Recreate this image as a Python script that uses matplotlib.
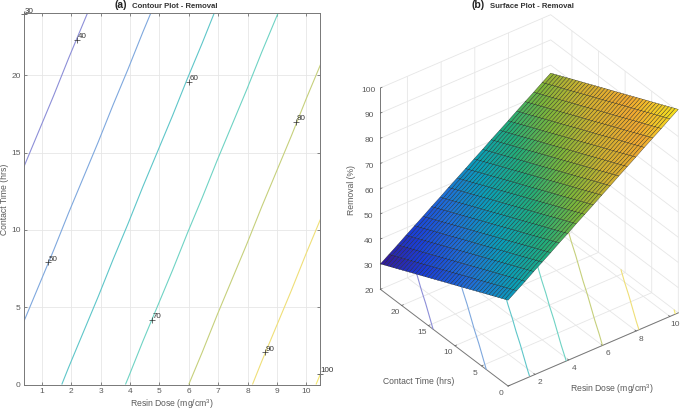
import matplotlib
matplotlib.use('Agg')
import matplotlib.pyplot as plt
from matplotlib.colors import LinearSegmentedColormap
import numpy as np

plt.rcParams['font.family'] = ['Liberation Sans', 'DejaVu Sans']
plt.rcParams['mathtext.default'] = 'regular'
plt.rcParams['grid.color'] = '#e6e6e6'
plt.rcParams['grid.linewidth'] = 0.6

#values
dose = [0.4, 0.905, 1.41, 1.915, 2.42, 2.925, 3.43, 3.935, 4.44, 4.945, 5.45,
        5.955, 6.46, 6.965, 7.47, 7.975, 8.48, 8.985, 9.49, 9.995, 10.5]
time = [0.0, 0.6, 1.2, 1.8, 2.4, 3.0, 3.6, 4.2, 4.8, 5.4, 6.0, 6.6, 7.2, 7.8,
        8.4, 9.0, 9.6, 10.2, 10.8, 11.4, 12.0, 12.6, 13.2, 13.8, 14.4, 15.0,
        15.6, 16.2, 16.8, 17.4, 18.0, 18.6, 19.2, 19.8, 20.4, 21.0, 21.6,
        22.2, 22.8, 23.4, 24.0]
removal = [
    [54.1, 56.4, 58.7, 61.1, 63.4, 65.7, 68.1, 70.4, 72.8, 75.1, 77.4, 79.8, 82.1, 84.5, 86.8, 89.1, 91.5, 93.8, 96.1, 98.5, 100.8],
    [53.5, 55.8, 58.1, 60.5, 62.8, 65.1, 67.5, 69.8, 72.2, 74.5, 76.8, 79.2, 81.5, 83.9, 86.2, 88.5, 90.9, 93.2, 95.5, 97.9, 100.2],
    [52.9, 55.2, 57.5, 59.9, 62.2, 64.5, 66.9, 69.2, 71.6, 73.9, 76.2, 78.6, 80.9, 83.3, 85.6, 87.9, 90.3, 92.6, 94.9, 97.3, 99.6],
    [52.3, 54.6, 56.9, 59.3, 61.6, 63.9, 66.3, 68.6, 71.0, 73.3, 75.6, 78.0, 80.3, 82.7, 85.0, 87.3, 89.7, 92.0, 94.3, 96.7, 99.0],
    [51.7, 54.0, 56.3, 58.7, 61.0, 63.3, 65.7, 68.0, 70.4, 72.7, 75.0, 77.4, 79.7, 82.1, 84.4, 86.7, 89.1, 91.4, 93.7, 96.1, 98.4],
    [51.1, 53.4, 55.7, 58.1, 60.4, 62.7, 65.1, 67.4, 69.8, 72.1, 74.4, 76.8, 79.1, 81.5, 83.8, 86.1, 88.5, 90.8, 93.1, 95.5, 97.8],
    [50.5, 52.8, 55.1, 57.5, 59.8, 62.1, 64.5, 66.8, 69.2, 71.5, 73.8, 76.2, 78.5, 80.9, 83.2, 85.5, 87.9, 90.2, 92.5, 94.9, 97.2],
    [49.9, 52.2, 54.5, 56.9, 59.2, 61.5, 63.9, 66.2, 68.6, 70.9, 73.2, 75.6, 77.9, 80.3, 82.6, 84.9, 87.3, 89.6, 91.9, 94.3, 96.6],
    [49.3, 51.6, 53.9, 56.3, 58.6, 60.9, 63.3, 65.6, 68.0, 70.3, 72.6, 75.0, 77.3, 79.7, 82.0, 84.3, 86.7, 89.0, 91.3, 93.7, 96.0],
    [48.7, 51.0, 53.3, 55.7, 58.0, 60.3, 62.7, 65.0, 67.4, 69.7, 72.0, 74.4, 76.7, 79.1, 81.4, 83.7, 86.1, 88.4, 90.7, 93.1, 95.4],
    [48.1, 50.4, 52.7, 55.1, 57.4, 59.7, 62.1, 64.4, 66.8, 69.1, 71.4, 73.8, 76.1, 78.5, 80.8, 83.1, 85.5, 87.8, 90.1, 92.5, 94.8],
    [47.5, 49.8, 52.1, 54.5, 56.8, 59.1, 61.5, 63.8, 66.2, 68.5, 70.8, 73.2, 75.5, 77.9, 80.2, 82.5, 84.9, 87.2, 89.5, 91.9, 94.2],
    [46.9, 49.2, 51.5, 53.9, 56.2, 58.5, 60.9, 63.2, 65.6, 67.9, 70.2, 72.6, 74.9, 77.3, 79.6, 81.9, 84.3, 86.6, 88.9, 91.3, 93.6],
    [46.3, 48.6, 50.9, 53.3, 55.6, 57.9, 60.3, 62.6, 65.0, 67.3, 69.6, 72.0, 74.3, 76.7, 79.0, 81.3, 83.7, 86.0, 88.3, 90.7, 93.0],
    [45.7, 48.0, 50.3, 52.7, 55.0, 57.3, 59.7, 62.0, 64.4, 66.7, 69.0, 71.4, 73.7, 76.1, 78.4, 80.7, 83.1, 85.4, 87.7, 90.1, 92.4],
    [45.1, 47.4, 49.7, 52.1, 54.4, 56.7, 59.1, 61.4, 63.8, 66.1, 68.4, 70.8, 73.1, 75.5, 77.8, 80.1, 82.5, 84.8, 87.1, 89.5, 91.8],
    [44.5, 46.8, 49.1, 51.5, 53.8, 56.1, 58.5, 60.8, 63.2, 65.5, 67.8, 70.2, 72.5, 74.9, 77.2, 79.5, 81.9, 84.2, 86.5, 88.9, 91.2],
    [43.9, 46.2, 48.5, 50.9, 53.2, 55.5, 57.9, 60.2, 62.6, 64.9, 67.2, 69.6, 71.9, 74.3, 76.6, 78.9, 81.3, 83.6, 85.9, 88.3, 90.6],
    [43.3, 45.6, 47.9, 50.3, 52.6, 54.9, 57.3, 59.6, 62.0, 64.3, 66.6, 69.0, 71.3, 73.7, 76.0, 78.3, 80.7, 83.0, 85.3, 87.7, 90.0],
    [42.7, 45.0, 47.3, 49.7, 52.0, 54.3, 56.7, 59.0, 61.4, 63.7, 66.0, 68.4, 70.7, 73.1, 75.4, 77.7, 80.1, 82.4, 84.7, 87.1, 89.4],
    [42.1, 44.4, 46.7, 49.1, 51.4, 53.7, 56.1, 58.4, 60.8, 63.1, 65.4, 67.8, 70.1, 72.5, 74.8, 77.1, 79.5, 81.8, 84.1, 86.5, 88.8],
    [41.5, 43.8, 46.1, 48.5, 50.8, 53.1, 55.5, 57.8, 60.2, 62.5, 64.8, 67.2, 69.5, 71.9, 74.2, 76.5, 78.9, 81.2, 83.5, 85.9, 88.2],
    [40.9, 43.2, 45.5, 47.9, 50.2, 52.5, 54.9, 57.2, 59.6, 61.9, 64.2, 66.6, 68.9, 71.3, 73.6, 75.9, 78.3, 80.6, 82.9, 85.3, 87.6],
    [40.3, 42.6, 44.9, 47.3, 49.6, 51.9, 54.3, 56.6, 59.0, 61.3, 63.6, 66.0, 68.3, 70.7, 73.0, 75.3, 77.7, 80.0, 82.3, 84.7, 87.0],
    [39.7, 42.0, 44.3, 46.7, 49.0, 51.3, 53.7, 56.0, 58.4, 60.7, 63.0, 65.4, 67.7, 70.1, 72.4, 74.7, 77.1, 79.4, 81.7, 84.1, 86.4],
    [39.1, 41.4, 43.7, 46.1, 48.4, 50.7, 53.1, 55.4, 57.8, 60.1, 62.4, 64.8, 67.1, 69.5, 71.8, 74.1, 76.5, 78.8, 81.1, 83.5, 85.8],
    [38.5, 40.8, 43.1, 45.5, 47.8, 50.1, 52.5, 54.8, 57.2, 59.5, 61.8, 64.2, 66.5, 68.9, 71.2, 73.5, 75.9, 78.2, 80.5, 82.9, 85.2],
    [37.9, 40.2, 42.5, 44.9, 47.2, 49.5, 51.9, 54.2, 56.6, 58.9, 61.2, 63.6, 65.9, 68.3, 70.6, 72.9, 75.3, 77.6, 79.9, 82.3, 84.6],
    [37.3, 39.6, 41.9, 44.3, 46.6, 48.9, 51.3, 53.6, 56.0, 58.3, 60.6, 63.0, 65.3, 67.7, 70.0, 72.3, 74.7, 77.0, 79.3, 81.7, 84.0],
    [36.7, 39.0, 41.3, 43.7, 46.0, 48.3, 50.7, 53.0, 55.4, 57.7, 60.0, 62.4, 64.7, 67.1, 69.4, 71.7, 74.1, 76.4, 78.7, 81.1, 83.4],
    [36.1, 38.4, 40.7, 43.1, 45.4, 47.7, 50.1, 52.4, 54.8, 57.1, 59.4, 61.8, 64.1, 66.5, 68.8, 71.1, 73.5, 75.8, 78.1, 80.5, 82.8],
    [35.5, 37.8, 40.1, 42.5, 44.8, 47.1, 49.5, 51.8, 54.2, 56.5, 58.8, 61.2, 63.5, 65.9, 68.2, 70.5, 72.9, 75.2, 77.5, 79.9, 82.2],
    [34.9, 37.2, 39.5, 41.9, 44.2, 46.5, 48.9, 51.2, 53.6, 55.9, 58.2, 60.6, 62.9, 65.3, 67.6, 69.9, 72.3, 74.6, 76.9, 79.3, 81.6],
    [34.3, 36.6, 38.9, 41.3, 43.6, 45.9, 48.3, 50.6, 53.0, 55.3, 57.6, 60.0, 62.3, 64.7, 67.0, 69.3, 71.7, 74.0, 76.3, 78.7, 81.0],
    [33.7, 36.0, 38.3, 40.7, 43.0, 45.3, 47.7, 50.0, 52.4, 54.7, 57.0, 59.4, 61.7, 64.1, 66.4, 68.7, 71.1, 73.4, 75.7, 78.1, 80.4],
    [33.1, 35.4, 37.7, 40.1, 42.4, 44.7, 47.1, 49.4, 51.8, 54.1, 56.4, 58.8, 61.1, 63.5, 65.8, 68.1, 70.5, 72.8, 75.1, 77.5, 79.8],
    [32.5, 34.8, 37.1, 39.5, 41.8, 44.1, 46.5, 48.8, 51.2, 53.5, 55.8, 58.2, 60.5, 62.9, 65.2, 67.5, 69.9, 72.2, 74.5, 76.9, 79.2],
    [31.9, 34.2, 36.5, 38.9, 41.2, 43.5, 45.9, 48.2, 50.6, 52.9, 55.2, 57.6, 59.9, 62.3, 64.6, 66.9, 69.3, 71.6, 73.9, 76.3, 78.6],
    [31.3, 33.6, 35.9, 38.3, 40.6, 42.9, 45.3, 47.6, 50.0, 52.3, 54.6, 57.0, 59.3, 61.7, 64.0, 66.3, 68.7, 71.0, 73.3, 75.7, 78.0],
    [30.7, 33.0, 35.3, 37.7, 40.0, 42.3, 44.7, 47.0, 49.4, 51.7, 54.0, 56.4, 58.7, 61.1, 63.4, 65.7, 68.1, 70.4, 72.7, 75.1, 77.4],
    [30.1, 32.4, 34.7, 37.1, 39.4, 41.7, 44.1, 46.4, 48.8, 51.1, 53.4, 55.8, 58.1, 60.5, 62.8, 65.1, 67.5, 69.8, 72.1, 74.5, 76.8],
]

levels = [30, 40, 50, 60, 70, 80, 90, 100]
label_x = [0.41, 2.2, 1.2, 6.0, 4.75, 9.65, 8.6, 10.45]
label_y = [23.95, 22.3, 7.9, 19.6, 4.2, 17.0, 2.1, 0.7]
label_text = ['30', '40', '50', '60', '70', '80', '90', '100']
level_colors = ['#7f7fd0', '#8d8fd8', '#7fa8de', '#5ec6c9', '#6fd3c4', '#c6d07c', '#efdf78', '#f6e86e']

grey = '#5a5a5a'
parula = LinearSegmentedColormap.from_list('parula', ['#35168f', '#1a3ed8', '#1f6fd8', '#0a9fb8', '#22ad7a',
                                                      '#7cb53a', '#d0b030', '#f0a830', '#f4e020'])

D, T = np.meshgrid(dose, time)
R = np.array(removal)

fig = plt.figure(figsize=(6.85, 4.12), dpi=100)

#contour plot
ax1 = fig.add_axes([24.3/685, 27.5/412, 296/685, 371/412])
ax1.contour(D, T, R, levels=levels, colors=level_colors, linewidths=0.8)
ax1.plot(label_x, label_y, '+', color='#333333', ms=4.5, mew=0.5, clip_on=False)
for lx, ly, lt in zip(label_x, label_y, label_text):
    ax1.annotate(lt, (lx, ly), xytext=(0.5, 1), textcoords='offset points', fontsize=5.8,
                 color='#333333', annotation_clip=False)
ax1.set_xlim(0.41, 10.47)
ax1.set_ylim(0, 24)
ax1.set_xticks(range(1, 11))
ax1.set_yticks([0, 5, 10, 15, 20])
ax1.grid(True)
ax1.set_axisbelow(True)
ax1.tick_params(direction='in', top=True, right=True, length=2.5, width=0.5, labelsize=6,
                colors=grey, pad=2.5)
for s in ax1.spines.values():
    s.set_color('#777777')
    s.set_linewidth(0.7)
ax1.set_xlabel('Resin Dose (mg/cm$^3$)', fontsize=6.2, color=grey, labelpad=2)
ax1.set_ylabel('Contact Time (hrs)', fontsize=6.2, color=grey)
ax1.yaxis.set_label_coords(-0.052, 0.5)

#surface plot
ax2 = fig.add_axes([353.5/685, 1/412, 0.5, 1.0], projection='3d', proj_type='ortho')
ax2.patch.set_alpha(0)
ax2.view_init(elev=34.8, azim=-127)
ax2.set_box_aspect((212, 211, 244), zoom=1.10)
ax2.plot_surface(D, T, R, rstride=1, cstride=1, cmap=parula, vmin=30, vmax=100, shade=False,
                 edgecolor='#111111', linewidth=0.22)
ax2.contour(D, T, R, levels=levels, colors=level_colors, zdir='z', offset=20, linewidths=0.8)
ax2.set_xlim(0.4, 10.5)
ax2.set_ylim(0, 24)
ax2.set_zlim(20, 100)
ax2.set_xticks([2, 4, 6, 8, 10])
ax2.set_yticks([0, 5, 10, 15, 20])
ax2.set_zticks(range(20, 101, 10))
ax2.tick_params(labelsize=6, colors=grey, pad=-3)
for a in (ax2.xaxis, ax2.yaxis, ax2.zaxis):
    a.set_pane_color((1, 1, 1, 0))
    a.pane.set_edgecolor('#e6e6e6')
    a.line.set_color('#777777')
    a.line.set_linewidth(0.7)
    a._axinfo['tick']['inward_factor'] = 0
    a._axinfo['tick']['outward_factor'] = 0.12
    a._axinfo['tick']['linewidth'] = {True: 0.5, False: 0.5}
for t in ax2.get_xticklabels() + ax2.get_yticklabels():
    t.set_va('bottom')
fig.text(612/685, 1-389/412, 'Resin Dose (mg/cm$^3$)', fontsize=6.2, color=grey, ha='center', va='center')
fig.text(419/685, 1-381/412, 'Contact Time (hrs)', fontsize=6.2, color=grey, ha='center', va='center')
fig.text(351/685, 1-190/412, 'Removal (%)', fontsize=6.2, color=grey, rotation=90, ha='center', va='center')

#panel titles
fig.text(115/685, 1-5/412, '(a)', fontsize=7.5, fontweight='bold', ha='left', va='center', color='#222222')
fig.text(132/685, 1-6/412, 'Contour Plot - Removal', fontsize=5.6, fontweight='bold', ha='left', va='center', color='#333333')
fig.text(472/685, 1-5/412, '(b)', fontsize=7.5, fontweight='bold', ha='left', va='center', color='#222222')
fig.text(490/685, 1-6/412, 'Surface Plot - Removal', fontsize=5.6, fontweight='bold', ha='left', va='center', color='#333333')

fig.savefig('out.png', dpi=100)
